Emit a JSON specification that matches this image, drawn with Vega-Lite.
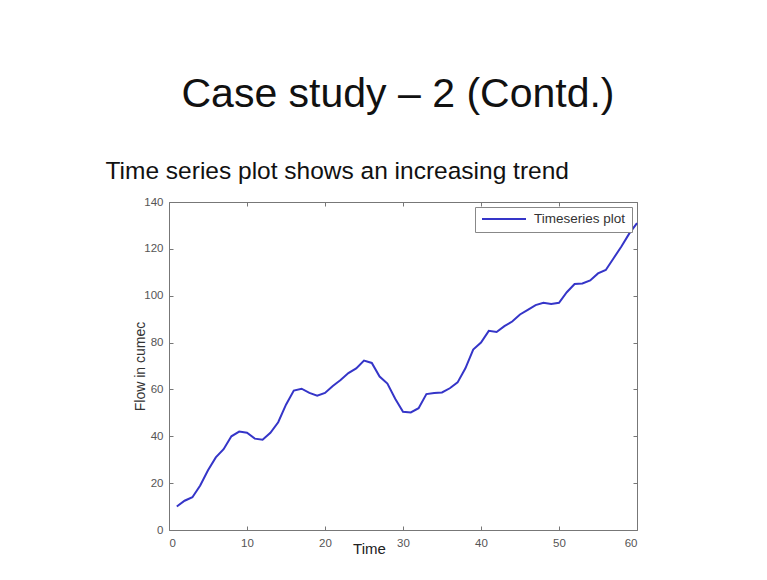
{
  "$schema": "https://vega.github.io/schema/vega-lite/v6.json",
  "width": 468,
  "height": 328,
  "autosize": {"type": "none"},
  "padding": {"left": 169, "top": 202, "right": 130, "bottom": 50},
  "background": "white",
  "title": {
    "text": "Case study – 2 (Contd.)",
    "anchor": "middle",
    "frame": "group",
    "font": "Liberation Sans",
    "fontSize": 41,
    "fontWeight": "normal",
    "color": "#111111",
    "dx": -5,
    "offset": 42
  },
  "config": {"view": {"stroke": null}, "font": "Liberation Sans"},
  "data": {
    "values": [
      {"time": 1, "flow": 10}, {"time": 2, "flow": 12.5}, {"time": 3, "flow": 14},
      {"time": 4, "flow": 19}, {"time": 5, "flow": 25.5}, {"time": 6, "flow": 31},
      {"time": 7, "flow": 34.5}, {"time": 8, "flow": 40}, {"time": 9, "flow": 42},
      {"time": 10, "flow": 41.5}, {"time": 11, "flow": 39}, {"time": 12, "flow": 38.5},
      {"time": 13, "flow": 41.5}, {"time": 14, "flow": 46}, {"time": 15, "flow": 53.5},
      {"time": 16, "flow": 59.5}, {"time": 17, "flow": 60.3}, {"time": 18, "flow": 58.5},
      {"time": 19, "flow": 57.3}, {"time": 20, "flow": 58.5}, {"time": 21, "flow": 61.5},
      {"time": 22, "flow": 64}, {"time": 23, "flow": 67}, {"time": 24, "flow": 69},
      {"time": 25, "flow": 72.3}, {"time": 26, "flow": 71.3}, {"time": 27, "flow": 65.5},
      {"time": 28, "flow": 62.5}, {"time": 29, "flow": 56}, {"time": 30, "flow": 50.5},
      {"time": 31, "flow": 50.2}, {"time": 32, "flow": 52}, {"time": 33, "flow": 58},
      {"time": 34, "flow": 58.5}, {"time": 35, "flow": 58.7}, {"time": 36, "flow": 60.5},
      {"time": 37, "flow": 63}, {"time": 38, "flow": 69}, {"time": 39, "flow": 77},
      {"time": 40, "flow": 80}, {"time": 41, "flow": 85}, {"time": 42, "flow": 84.5},
      {"time": 43, "flow": 87}, {"time": 44, "flow": 89}, {"time": 45, "flow": 92},
      {"time": 46, "flow": 94}, {"time": 47, "flow": 96}, {"time": 48, "flow": 97},
      {"time": 49, "flow": 96.5}, {"time": 50, "flow": 97}, {"time": 51, "flow": 101.5},
      {"time": 52, "flow": 105}, {"time": 53, "flow": 105.2}, {"time": 54, "flow": 106.5},
      {"time": 55, "flow": 109.5}, {"time": 56, "flow": 111}, {"time": 57, "flow": 116},
      {"time": 58, "flow": 121}, {"time": 59, "flow": 126.5}, {"time": 60, "flow": 131}
    ]
  },
  "layer": [
    {
      "mark": {"type": "line", "strokeWidth": 2},
      "encoding": {
        "x": {
          "field": "time", "type": "quantitative",
          "scale": {"domain": [0, 60], "nice": false},
          "axis": {
            "orient": "bottom", "values": [0, 10, 20, 30, 40, 50, 60],
            "grid": false, "domainColor": "#777777", "tickColor": "#777777",
            "tickSize": -4, "labelPadding": 11, "labelFont": "Liberation Sans",
            "labelFontSize": 11.5, "labelColor": "#555555",
            "title": "Time", "titleFont": "Liberation Sans", "titleFontSize": 15,
            "titleFontWeight": "normal", "titleColor": "#222222",
            "titleX": 200, "titleY": 23, "titleAlign": "center", "titleBaseline": "alphabetic"
          }
        },
        "y": {
          "field": "flow", "type": "quantitative",
          "scale": {"domain": [0, 140], "nice": false},
          "axis": {
            "orient": "left", "values": [0, 20, 40, 60, 80, 100, 120, 140],
            "grid": false, "domainColor": "#777777", "tickColor": "#777777",
            "tickSize": -4, "labelPadding": 10, "labelFont": "Liberation Sans",
            "labelFontSize": 11.5, "labelColor": "#555555",
            "title": "Flow in cumec", "titleFont": "Liberation Sans", "titleFontSize": 14,
            "titleFontWeight": "normal", "titleColor": "#333333",
            "titleX": -25, "titleY": 164, "titleAngle": 270, "titleAlign": "center",
            "titleBaseline": "alphabetic"
          }
        },
        "color": {
          "datum": "Timeseries plot",
          "scale": {"range": ["#3535c8"]},
          "legend": {
            "title": null, "orient": "top-right", "offset": 5,
            "fillColor": "white", "strokeColor": "#888888", "padding": 6,
            "symbolType": "M-1,0H1", "symbolSize": 1936, "symbolStrokeWidth": 2,
            "clipHeight": 12,
            "labelFont": "Liberation Sans", "labelFontSize": 13.5, "labelColor": "#333333",
            "labelOffset": 7
          }
        }
      }
    },
    {
      "mark": {"type": "line", "opacity": 0},
      "encoding": {
        "x": {
          "field": "time", "type": "quantitative",
          "axis": {
            "orient": "top", "values": [0, 10, 20, 30, 40, 50, 60], "labels": false,
            "grid": false, "domainColor": "#777777", "tickColor": "#777777", "tickSize": -4,
            "title": "Time series plot shows an increasing trend",
            "titleFont": "Liberation Sans", "titleFontSize": 24.5, "titleFontWeight": "normal",
            "titleColor": "#111111", "titleX": -64, "titleY": -24,
            "titleAlign": "left", "titleBaseline": "alphabetic"
          }
        },
        "y": {
          "field": "flow", "type": "quantitative",
          "axis": {
            "orient": "right", "values": [0, 20, 40, 60, 80, 100, 120, 140], "labels": false,
            "grid": false, "domainColor": "#777777", "tickColor": "#777777", "tickSize": -4,
            "title": null
          }
        }
      }
    }
  ],
  "resolve": {"axis": {"x": "independent", "y": "independent"}}
}
